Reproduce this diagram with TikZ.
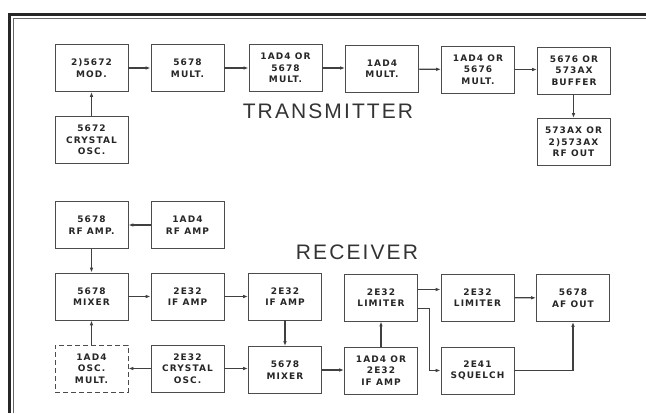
\documentclass[tikz,border=0pt]{standalone}
\usepackage{fontspec}
\usetikzlibrary{arrows.meta}
\newfontfamily\boxfont[LetterSpace=12]{DejaVu Sans}
\newfontfamily\titlefont[LetterSpace=10]{Liberation Sans}

\begin{document}
\begin{tikzpicture}[>=Latex, x=1pt, y=-1pt,
  blk/.style={rectangle, draw=black!70, line width=0.8pt, align=center, minimum width=73pt, minimum height=47pt, inner sep=0pt, text=black!85, font=\boxfont\bfseries\fontsize{9}{11.5}\selectfont},
  blkdash/.style={blk, dash pattern=on 5pt off 3pt},
  heading/.style={font=\titlefont\fontsize{21}{21}\selectfont, text=black!80},
  link/.style={->, line width=1.1pt, draw=black!75, >={Latex[length=5pt,width=3.6pt]}}
]
\useasboundingbox (0,0) rectangle (646,413);
% frame
\draw[line width=3pt, black!85] (9,413) -- (9,14.5) -- (646,14.5);
\draw[line width=0.5pt, black!60] (13.5,413) -- (13.5,18.5) -- (646,18.5);
% transmitter
\node[heading] (ttl) at (328,111) {TRANSMITTER};
\node[blk] (t_mod) at (91.5,68) {2)5672\\MOD.};
\node[blk] (t_mul1) at (187.5,68) {5678\\MULT.};
\node[blk] (t_mul2) at (285.5,68) {1AD4 OR\\5678\\MULT.};
\node[blk] (t_mul3) at (382,69) {1AD4\\MULT.};
\node[blk] (t_mul4) at (478,69.5) {1AD4 OR\\5676\\MULT.};
\node[blk] (t_buf) at (574,70.5) {5676 OR\\573AX\\BUFFER};
\node[blk] (t_osc) at (91.5,140) {5672\\CRYSTAL\\OSC.};
\node[blk] (t_out) at (573.5,142) {573AX OR\\2)573AX\\RF OUT};
\draw[link] (t_osc) -- (t_mod);
\draw[link] (t_mod) -- (t_mul1);
\draw[link] (t_mul1) -- (t_mul2);
\draw[link] (t_mul2.east) -- (t_mul3.west |- t_mul2.east);
\draw[link] (t_mul3) -- (t_mul4);
\draw[link] (t_mul4.east) -- (t_buf.west |- t_mul4.east);
\draw[link] (t_buf.south -| t_out.north) -- (t_out.north);
% receiver
\node[heading] (rcv) at (357,252) {RECEIVER};
\node[blk] (r_rf) at (91.5,225) {5678\\RF AMP.};
\node[blk] (r_rf2) at (187.5,225) {1AD4\\RF AMP};
\node[blk] (r_mix) at (91.5,296.5) {5678\\MIXER};
\node[blk] (r_if1) at (187.5,296.5) {2E32\\IF AMP};
\node[blk] (r_if2) at (285,296.5) {2E32\\IF AMP};
\node[blk] (r_lim1) at (381,297.5) {2E32\\LIMITER};
\node[blk] (r_lim2) at (477.5,297.5) {2E32\\LIMITER};
\node[blk] (r_af) at (573,298) {5678\\AF OUT};
\node[blkdash] (r_oscm) at (91.5,368.5) {1AD4\\OSC.\\MULT.};
\node[blk] (r_xtal) at (187.5,368.5) {2E32\\CRYSTAL\\OSC.};
\node[blk] (r_mix2) at (285,370) {5678\\MIXER};
\node[blk] (r_if3) at (381,370.5) {1AD4 OR\\2E32\\IF AMP};
\node[blk] (r_sq) at (477.5,370.5) {2E41\\SQUELCH};
\draw[link] (r_rf2) -- (r_rf);
\draw[link] (r_rf) -- (r_mix);
\draw[link] (r_mix) -- (r_if1);
\draw[link] (r_if1) -- (r_if2);
\draw[link] (r_if2) -- (r_mix2);
\draw[link] (r_oscm) -- (r_mix);
\draw[link] (r_xtal) -- (r_oscm);
\draw[link] (r_xtal.east) -- (r_mix2.west |- r_xtal.east);
\draw[link] (r_mix2.east) -- (r_if3.west |- r_mix2.east);
\draw[link] (r_if3) -- (r_lim1);
\draw[link] ([yshift=8pt]r_lim1.east) -- ([yshift=8pt]r_lim2.west);
\draw[link] ([yshift=-11pt]r_lim1.east) -- ++(12,0) |- (r_sq.west);
\draw[link] (r_lim2) -- (r_af);
\draw[link] (r_sq.east) -| (r_af.south);
\end{tikzpicture}
\end{document}
